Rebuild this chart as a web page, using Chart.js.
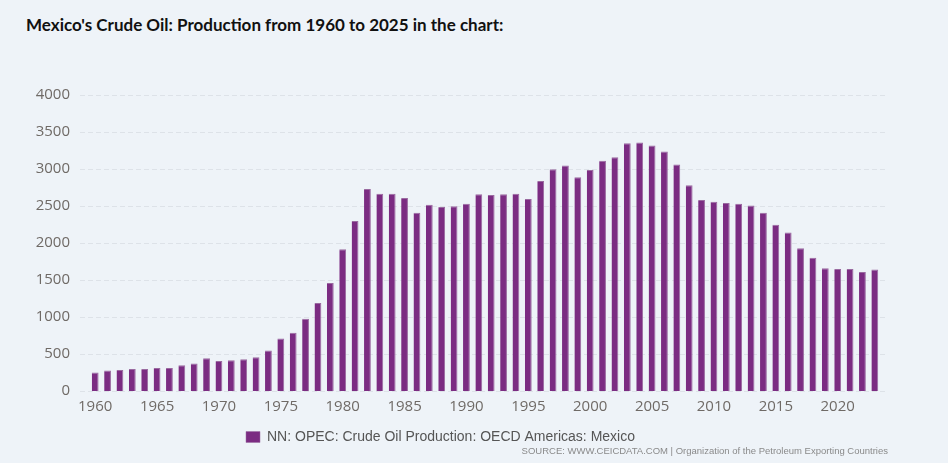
<!DOCTYPE html>
<html lang="en">
<head>
<meta charset="UTF-8">
<title>Mexico Crude Oil Production</title>
<script src="https://cdn.jsdelivr.net/npm/chart.js@4.4.1/dist/chart.umd.min.js"></script>
<style>
	html, body { margin: 0; padding: 0; }
	body { width: 948px; height: 463px; background: #eef3f8; position: relative; overflow: hidden; font-family: "Open Sans", sans-serif; }
	#title { position: absolute; left: 26px; top: 14px; margin: 0; font-family: Lato, sans-serif; font-weight: 700; font-size: 17px; color: #111; }
	#chartBox { position: absolute; left: 0; top: 0; width: 948px; height: 463px; }
	#source { position: absolute; right: 60px; top: 445px; font-size: 9.5px; color: #8a8a8a; font-family: "Liberation Sans Narrow", "Liberation Sans", sans-serif; }
</style>
</head>
<body>
	<h1 id="title">Mexico's Crude Oil: Production from 1960 to 2025 in the chart:</h1>
	<div id="chartBox"><canvas id="oilchart"></canvas></div>
	<div id="source">SOURCE: WWW.CEICDATA.COM | Organization of the Petroleum Exporting Countries</div>

	<script>
		// years 1960 - 2023
		var years = [];
		for (var y = 1960; y <= 2023; y++) years.push(String(y));

		// production, thousand barrels per day
		var production = [
			249, 276, 285, 298, 298, 312, 312, 348, 371, 443,
			407, 416, 429, 457, 547, 710, 786, 976, 1189, 1460,
			1916, 2296, 2730, 2667, 2667, 2608, 2409, 2517, 2486, 2495,
			2531, 2658, 2649, 2658, 2667, 2594, 2838, 2997, 3046, 2888,
			2988, 3110, 3159, 3349, 3358, 3318, 3236, 3060, 2780, 2581,
			2558, 2540, 2531, 2508, 2409, 2246, 2142, 1930, 1799, 1659,
			1650, 1650, 1609, 1641
		];

		var yTicks = [0, 500, 1000, 1500, 2000, 2500, 3000, 3500, 4000];
		var seriesName = 'NN: OPEC: Crude Oil Production: OECD Americas: Mexico';

		// gridlines in the original run a little past the plot on both sides
		var wideGrid = {
			id : 'wideGrid',
			beforeDatasetsDraw : function(c) {
				var y = c.scales.y, g = c.ctx;
				g.save();
				g.strokeStyle = '#dde2e8';
				g.lineWidth = 1;
				g.setLineDash([5, 3]);
				yTicks.forEach(function(v) {
					var py = Math.round(y.getPixelForValue(v)) + 0.5;
					g.beginPath();
					g.moveTo(80, py);
					g.lineTo(888, py);
					g.stroke();
				});
				g.restore();
			}
		};

		var ctx = document.getElementById('oilchart').getContext('2d');
		var chart = new Chart(ctx, {
			type : 'bar',
			data : {
				labels : years,
				datasets : [ {
					label : seriesName,
					data : production,
					backgroundColor : '#7b2c82',
					borderColor : '#9a6aa0',
					borderWidth : {left: 0, right: 1, top: 1, bottom: 0},
					categoryPercentage : 1,
					barPercentage : 0.55
				} ]
			},
			plugins : [ wideGrid ],
			options : {
				responsive : true,
				maintainAspectRatio : false,
				animation : false,
				layout : { padding : { top : 95, right : 67, bottom : 9, left : 0 } },
				plugins : {
					tooltip : { enabled : false },
					legend : {
						position : 'bottom',
						labels : {
							boxWidth : 14,
							boxHeight : 11,
							padding : 6,
							color : '#555',
							font : { family : '"Liberation Sans Narrow", "Liberation Sans", sans-serif', size : 14 }
						}
					}
				},
				scales : {
					x : {
						grid : { display : false, drawTicks : false },
						border : { display : false },
						afterFit : function(s) { s.height = 33; },
						ticks : {
							padding : 7,
							color : '#6f6a66',
							autoSkip : false,
							maxRotation : 0,
							font : { family : '"Open Sans", sans-serif', size : 15 },
							callback : function(v, i) {
								var lab = years[i];
								return (Number(lab) % 5 === 0) ? lab : '';
							}
						}
					},
					y : {
						min : 0,
						max : 4000,
						afterFit : function(s) { s.width = 89; },
						afterBuildTicks : function(s) {
							s.ticks = yTicks.map(function(v) { return { value : v }; });
						},
						grid : { display : false, drawTicks : false },
						border : { display : false },
						ticks : {
							padding : 19,
							color : '#6f6a66',
							font : { family : '"Open Sans", sans-serif', size : 15 },
							callback : function(v) { return String(v); }
						}
					}
				}
			}
		});
	</script>
</body>
</html>
